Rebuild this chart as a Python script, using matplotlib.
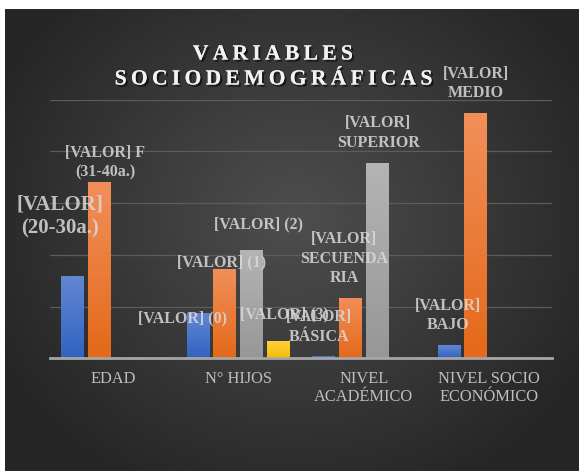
import numpy as np
import matplotlib
matplotlib.use('Agg')
from matplotlib import pyplot as plt
from matplotlib.colors import LinearSegmentedColormap
import matplotlib.patheffects as pe

categories = ['EDAD', 'N° HIJOS', 'NIVEL\nACADÉMICO', 'NIVEL SOCIO\nECONÓMICO']
serie1 = [32, 17.5, 1, 5]
serie2 = [68, 34.5, 23.5, 95]
serie3 = [0, 42, 75.5, 0]
serie4 = [0, 6.5, 0, 0]

labels1 = ['[VALOR]\n(20-30a.)', '[VALOR] (0)', '[VALOR]\nBÁSICA', '[VALOR]\nBAJO']
labels2 = ['[VALOR] F\n(31-40a.)', '[VALOR] (1)', '[VALOR]\nSECUENDA\nRIA', '[VALOR]\nMEDIO']
labels3 = [None, '[VALOR] (2)', '[VALOR]\nSUPERIOR', None]
labels4 = [None, '[VALOR] (3)', None, None]

title_lines = ['VARIABLES', 'SOCIODEMOGRÁFICAS']

serif = ['Liberation Serif', 'DejaVu Serif']
plt.rcParams['font.family'] = serif

W, H = 579, 471
fig = plt.figure(figsize=(W / 100, H / 100), dpi=100, facecolor='white')

# dark radial background
bg = fig.add_axes([5 / W, 0, 1 - 5 / W, 462 / H])
yy, xx = np.mgrid[0:462, 0:574]
r = np.sqrt(((xx - 290) / 330.0) ** 2 + ((yy - 210) / 300.0) ** 2)
r = np.clip(r, 0, 1)
bg_cmap = LinearSegmentedColormap.from_list('bg', ['#4e4e4e', '#3a3a3a', '#262626'])
bg.imshow(r, cmap=bg_cmap, aspect='auto', vmin=0, vmax=1)
bg.set_axis_off()

ax = fig.add_axes([50 / W, (H - 358.3) / H, 502 / W, 258.6 / H])
ax.set_facecolor('none')

x = np.arange(len(categories))
pitch = 0.2135
width = 0.183
series = [
    (serie1, labels1, '#6388d2', '#3163c2'),
    (serie2, labels2, '#f18f5a', '#e4691a'),
    (serie3, labels3, '#b4b4b4', '#979797'),
    (serie4, labels4, '#ffcf40', '#f5bd00'),
]

# label offsets in pixels (dx, dy) relative to bar top centre
offsets = {
    (0, 0): (-13, 59), (1, 0): (6, 20),
    (0, 1): (-16, -5), (1, 1): (-3, 7), (2, 1): (7, 25), (3, 1): (6, 27),
    (0, 2): (-5, 29), (1, 2): (-6, 39), (2, 2): (1, 30),
    (0, 3): (-1, 30), (1, 3): (0, 29),
}

grad = np.linspace(1, 0, 100).reshape(-1, 1)
for k, (vals, labs, ctop, cbot) in enumerate(series):
    xs = x + (k - 1.5) * pitch
    bars = ax.bar(xs, vals, width, color=cbot, zorder=2, linewidth=0)
    cm = LinearSegmentedColormap.from_list('g%d' % k, [cbot, ctop])
    for i, b in enumerate(bars):
        if vals[i] <= 0:
            b.set_visible(False)
            continue
        im = ax.imshow(grad, cmap=cm, aspect='auto', zorder=2.1,
                       extent=[b.get_x(), b.get_x() + b.get_width(), 0, b.get_height()])
        im.set_clip_path(b)
        if labs[i]:
            dx, dy = offsets[(k, i)]
            fs = 15 if (k, i) == (0, 0) else 11.5
            ax.annotate(labs[i], xy=(xs[i], vals[i]), xytext=(dx, dy),
                        textcoords='offset pixels', ha='center', va='center',
                        fontsize=fs, fontweight='bold', color='#d9d9d9', alpha=0.85,
                        linespacing=1.3, zorder=5, annotation_clip=False)

ax.set_xlim(-0.5, 3.5)
ax.set_ylim(0, 100)
ax.set_yticks([20, 40, 60, 80, 100])
ax.yaxis.grid(True, color='#5c5c5c', linewidth=0.9, zorder=0)
ax.set_axisbelow(True)
ax.tick_params(axis='y', length=0, labelleft=False)
ax.set_xticks(x)
ax.set_xticklabels(categories, fontsize=11.8, color='#bfbfbf', linespacing=1.15)
ax.tick_params(axis='x', length=0, pad=9.5)
for s in ['top', 'right', 'left']:
    ax.spines[s].set_visible(False)
ax.spines['bottom'].set_color('#a6a6a6')
ax.spines['bottom'].set_linewidth(2)
ax.spines['bottom'].set_zorder(3)

shadow = [pe.withSimplePatchShadow(offset=(1.5, -1.5), shadow_rgbFace='black', alpha=0.6), pe.Normal()]
thin = '\u2009'
for j, line in enumerate(title_lines):
    fig.text(272.3 / W, 1 - (54.5 + 25 * j) / H, thin.join(line), ha='center', va='center',
             fontsize=15.5, fontweight='bold', color='#f2f2f2', path_effects=shadow)

fig.savefig('out.png', dpi=100, facecolor=fig.get_facecolor())
